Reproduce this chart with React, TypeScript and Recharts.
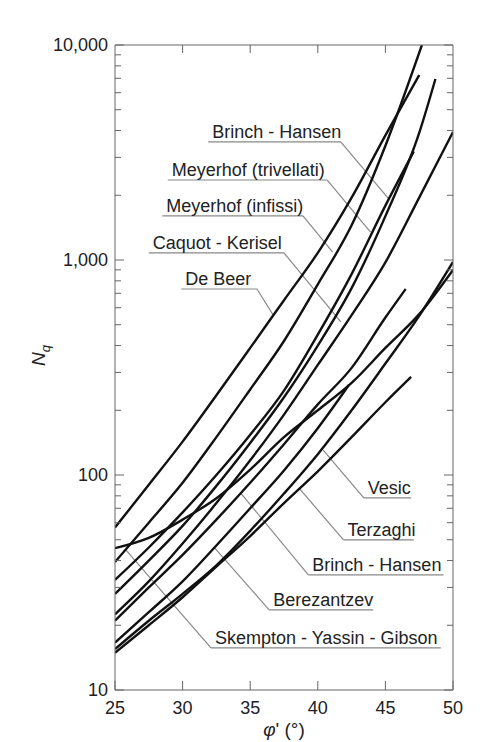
import React from 'react';
import { LineChart, Line, XAxis, YAxis, ReferenceLine, Label } from 'recharts';

// ---- axes ----
const PHI_TICKS = [25, 30, 35, 40, 45, 50];
const PHI_TOP_TICKS = [30, 35, 40, 45];
const N_MAJOR = [10, 100, 1000, 10000];
const N_MINOR = [20, 30, 40, 50, 60, 70, 80, 90, 200, 300, 400, 500, 600, 700, 800, 900, 2000, 3000, 4000, 5000, 6000, 7000, 8000, 9000];

// ---- curves (φ' in degrees, Nq) ----
const deBeerPhi = [25, 27.5, 30, 32.5, 35, 37.5, 40, 42.5, 45, 47.5];
const deBeerN = [57, 90, 143, 235, 390, 650, 1080, 1950, 3800, 7250];

const meyerhofInfPhi = [25, 27.5, 30, 32.5, 35, 37.5, 40, 42.5, 45, 47.7];
const meyerhofInfN = [39.4, 60, 92, 150, 250, 420, 770, 1450, 3400, 10000];

const meyerhofTrivPhi = [25, 27.5, 30, 32.5, 35, 37.5, 40, 42.5, 45, 47.1];
const meyerhofTrivN = [32.5, 46, 67, 100, 154, 247, 450, 860, 1790, 3200];

const brinchUpPhi = [25, 27.5, 30, 32.5, 35, 37.5, 40, 42.5, 45, 47.5, 48.7];
const brinchUpN = [28, 40, 58, 89, 141, 230, 400, 740, 1600, 3900, 6950];

const caquotPhi = [25, 27.5, 30, 32.5, 35, 37.5, 40, 42.5, 45, 47.5, 50];
const caquotN = [22.5, 32, 48, 74, 117, 191, 325, 554, 975, 1950, 3940];

const brinchLowPhi = [25, 27.5, 30, 32.5, 35, 37.5, 40, 42.5, 45, 46.5];
const brinchLowN = [21, 30, 42.5, 62, 92, 139, 213, 315, 540, 733];

const skemptonPhi = [25, 27.5, 30, 32.5, 35, 37.5, 40, 42.5, 45, 47.5, 50];
const skemptonN = [45.7, 51, 62, 78, 106, 150, 200, 268, 390, 560, 900];

const vesicPhi = [25, 27.5, 30, 32.5, 35, 37.5, 40, 42.5, 45, 47.5, 50];
const vesicN = [15.5, 21, 28, 38, 55, 82, 125, 200, 330, 550, 980];

const terzaghiPhi = [25, 27.5, 30, 32.5, 35, 37.5, 40, 42.5, 45, 46.9];
const terzaghiN = [14.9, 20, 27, 37.5, 52, 74, 104, 150, 218, 286];

const berezantzevPhi = [25, 27.5, 30, 32.5, 35, 37.5, 40, 42.3];
const berezantzevN = [16.6, 23, 32, 47, 70, 105, 165, 262];

const curves = [
  { key: 'deBeer', phi: deBeerPhi, n: deBeerN },
  { key: 'meyerhofInf', phi: meyerhofInfPhi, n: meyerhofInfN },
  { key: 'meyerhofTriv', phi: meyerhofTrivPhi, n: meyerhofTrivN },
  { key: 'brinchUp', phi: brinchUpPhi, n: brinchUpN },
  { key: 'caquot', phi: caquotPhi, n: caquotN },
  { key: 'brinchLow', phi: brinchLowPhi, n: brinchLowN },
  { key: 'skempton', phi: skemptonPhi, n: skemptonN },
  { key: 'vesic', phi: vesicPhi, n: vesicN },
  { key: 'terzaghi', phi: terzaghiPhi, n: terzaghiN },
  { key: 'berezantzev', phi: berezantzevPhi, n: berezantzevN },
];

// ---- labels with underline + leader (data coordinates) ----
const labelTexts = ['Brinch - Hansen', 'Meyerhof (trivellati)', 'Meyerhof (infissi)', 'Caquot - Kerisel', 'De Beer',
  'Vesic', 'Terzaghi', 'Brinch - Hansen', 'Berezantzev', 'Skempton - Yassin - Gibson'];
const labelPhiStart = [31.9, 28.9, 28.5, 27.5, 29.9, 43.4, 41.9, 39.3, 36.4, 32.1];
const labelPhiEnd = [41.7, 40.7, 38.9, 37.5, 35.5, 46.9, 47.1, 49.3, 44.1, 49.1];
const labelN = [3540, 2355, 1603, 1079, 733, 78.2, 49.9, 34.3, 23.6, 15.7];
const leaderFromEnd = [true, true, true, true, true, false, false, false, false, false];
const targetPhi = [45.2, 43.9, 41.1, 41.7, 36.7, 40.4, 38.6, 34.3, 32.3, 25.8];
const targetN = [1940, 1349, 1089, 515, 555, 130.6, 87.1, 82.4, 46.3, 44.8];

const FONT = '"Liberation Sans", Arial, Helvetica, sans-serif';
const AXIS = '#666';
const fmt = (v: number) => v.toLocaleString('en-US');

const LeftTick = (props: any) => {
  const { x, y, payload } = props;
  const major = N_MAJOR.includes(payload.value);
  return (
    <g>
      <line x1={x} y1={y} x2={x + (major ? 9 : 6)} y2={y} stroke={AXIS} strokeWidth={1} />
      {major && (
        <text x={x - 7} y={y} dy="0.36em" textAnchor="end" fontSize={18} fill="#222" fontFamily={FONT}>
          {fmt(payload.value)}
        </text>
      )}
    </g>
  );
};

const RightTick = (props: any) => {
  const { x, y, payload } = props;
  const major = N_MAJOR.includes(payload.value);
  return <line x1={x} y1={y} x2={x - (major ? 9 : 6)} y2={y} stroke={AXIS} strokeWidth={1} />;
};

const BottomTick = (props: any) => {
  const { x, y, payload } = props;
  return (
    <g>
      <line x1={x} y1={y} x2={x} y2={y - 9} stroke={AXIS} strokeWidth={1} />
      <text x={x} y={y + 24} textAnchor="middle" fontSize={18} fill="#222" fontFamily={FONT}>
        {payload.value}
      </text>
    </g>
  );
};

const TopTick = (props: any) => {
  const { x, y } = props;
  return <line x1={x} y1={y} x2={x} y2={y + 8} stroke={AXIS} strokeWidth={1} />;
};

const NqLabel = (props: any) => {
  const vb = props.viewBox || { x: 0, y: 45, width: 115, height: 645 };
  const cx = vb.x + 45;
  const cy = vb.y + vb.height / 2 - 12;
  return (
    <text x={cx} y={cy} transform={`rotate(-90 ${cx} ${cy})`} textAnchor="middle" fontSize={19} fill="#222" fontFamily={FONT}>
      <tspan fontStyle="italic">N</tspan>
      <tspan fontStyle="italic" fontSize={13} dy={5}>q</tspan>
    </text>
  );
};

const PhiLabel = (props: any) => {
  const vb = props.viewBox || { x: 115, y: 690, width: 338, height: 52 };
  const cx = vb.x + vb.width / 2;
  return (
    <text x={cx} y={vb.y + 46} textAnchor="middle" fontSize={19} fill="#222" fontFamily={FONT}>
      <tspan fontStyle="italic">φ</tspan>
      <tspan>' (°)</tspan>
    </text>
  );
};

export default function App() {
  return (
    <div style={{ position: 'absolute', left: 0, top: 0, width: 484, height: 742, background: '#fff' }}>
      <LineChart width={484} height={742} margin={{ top: 0, right: 0, bottom: 0, left: 0 }}>
        <XAxis
          xAxisId="bottom"
          type="number"
          dataKey="phi"
          domain={[25, 50]}
          ticks={PHI_TICKS}
          interval={0}
          allowDataOverflow
          height={52}
          tickSize={0}
          tickMargin={0}
          tickLine={false}
          axisLine={{ stroke: AXIS, strokeWidth: 1 }}
          tick={<BottomTick />}
        >
          <Label content={<PhiLabel />} />
        </XAxis>
        <XAxis
          xAxisId="top"
          orientation="top"
          type="number"
          dataKey="phi"
          domain={[25, 50]}
          ticks={PHI_TOP_TICKS}
          interval={0}
          allowDataOverflow
          height={45}
          tickSize={0}
          tickMargin={0}
          tickLine={false}
          axisLine={{ stroke: AXIS, strokeWidth: 1 }}
          tick={<TopTick />}
        />
        <YAxis
          yAxisId="left"
          type="number"
          scale="log"
          domain={[10, 10000]}
          ticks={[...N_MAJOR, ...N_MINOR]}
          interval={0}
          allowDataOverflow
          width={115}
          tickSize={0}
          tickMargin={0}
          tickLine={false}
          axisLine={{ stroke: AXIS, strokeWidth: 1 }}
          tick={<LeftTick />}
        >
          <Label content={<NqLabel />} />
        </YAxis>
        <YAxis
          yAxisId="right"
          orientation="right"
          type="number"
          scale="log"
          domain={[10, 10000]}
          ticks={[...N_MAJOR, ...N_MINOR]}
          interval={0}
          allowDataOverflow
          width={31}
          tickSize={0}
          tickMargin={0}
          tickLine={false}
          axisLine={{ stroke: AXIS, strokeWidth: 1 }}
          tick={<RightTick />}
        />
        {labelTexts.map((t, i) => (
          <ReferenceLine
            key={'u' + i}
            xAxisId="bottom"
            yAxisId="left"
            ifOverflow="visible"
            segment={[
              { x: labelPhiStart[i], y: labelN[i] },
              { x: labelPhiEnd[i], y: labelN[i] },
            ]}
            stroke="#888"
            strokeWidth={1.2}
            label={{ value: t, position: 'insideBottomLeft', offset: 4, fontSize: 18, fill: '#222', fontFamily: FONT }}
          />
        ))}
        {labelTexts.map((t, i) => (
          <ReferenceLine
            key={'l' + i}
            xAxisId="bottom"
            yAxisId="left"
            ifOverflow="visible"
            segment={[
              { x: leaderFromEnd[i] ? labelPhiEnd[i] : labelPhiStart[i], y: labelN[i] },
              { x: targetPhi[i], y: targetN[i] },
            ]}
            stroke="#888"
            strokeWidth={1.2}
          />
        ))}
        {curves.map((c) => (
          <Line
            key={c.key}
            xAxisId="bottom"
            yAxisId="left"
            data={c.phi.map((p, i) => ({ phi: p, n: c.n[i] }))}
            dataKey="n"
            type="monotone"
            stroke="#111"
            strokeWidth={2.4}
            dot={false}
            activeDot={false}
            isAnimationActive={false}
          />
        ))}
      </LineChart>
    </div>
  );
}
